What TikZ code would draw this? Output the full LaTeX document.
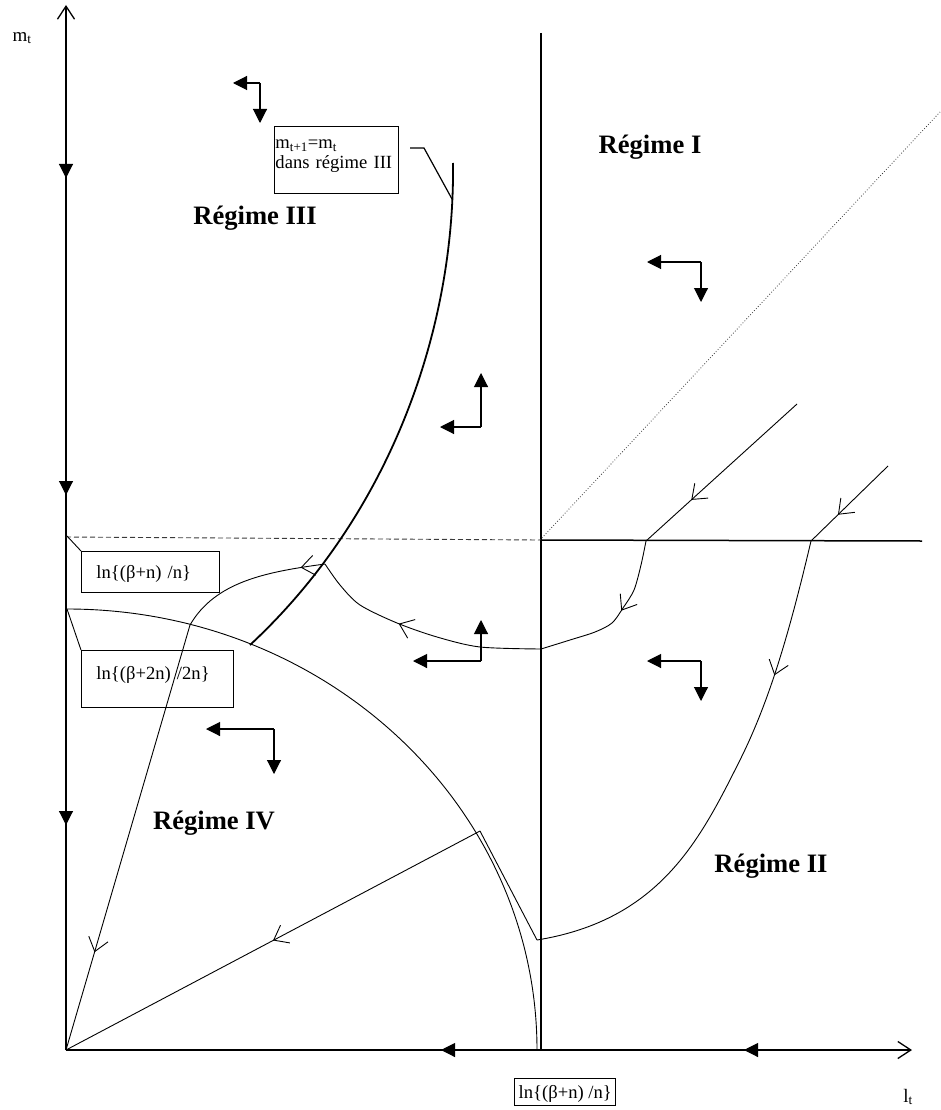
\documentclass[tikz,border=0pt]{standalone}
\usepackage{fontspec}
\setmainfont{Liberation Serif}
\usetikzlibrary{positioning,arrows.meta,decorations.markings}
\definecolor{guidegray}{HTML}{3A3A3A}

\begin{document}
\begin{tikzpicture}[x=1pt,y=-1pt,
  axis/.style={line width=1.3pt, -{Straight Barb[length=13pt,width=17pt]}},
  push/.style={line width=1.1pt, -{Triangle[length=14pt,width=14pt]}},
  flow/.style={line width=0.9pt},
  flowmid/.style={postaction={decorate}, decoration={markings,
      mark=at position #1 with {\arrow{Straight Barb[length=13pt,width=20pt]}}}},
  regimelbl/.style={font=\fontsize{26.6}{30}\selectfont\bfseries},
  axislbl/.style={font=\fontsize{19}{20}\selectfont},
  infobox/.style={draw, line width=0.9pt, inner ysep=0pt, align=left, font=\fontsize{18.6}{20}\selectfont}]
\useasboundingbox (0,0) rectangle (941,1110);

% axes
\coordinate (O) at (66,1050);
\draw[axis] (O) -- (66,5);
\draw[axis] (O) -- (912,1050);
\node[axislbl] (mlbl) at (22,38) {m\textsubscript{t}};
\node[axislbl] (llbl) at (908,1097) {l\textsubscript{t}};
\foreach \ya/\yb in {138/178, 455/495, 785/825}
  \draw[push] (66,\ya) -- (66,\yb);
\foreach \xa/\xb in {480/441, 812/744}
  \draw[push] (\xa,1050) -- (\xb,1050);

% regime borders
\coordinate (kink) at (540,540);
\draw[line width=1.8pt] (541,33) -- (541,1050);
\draw[line width=1.5pt] (kink) -- (922,541);
\draw[guidegray, line width=0.9pt, dash pattern=on 5pt off 3pt] (66,537) -- (kink);
\draw[guidegray, line width=0.8pt, dotted] (kink) -- (940,112);
\coordinate (arcTop) at (67,609);
\draw[flow] (arcTop) arc[start angle=90, end angle=0, x radius=470pt, y radius=441pt];
\draw[line width=1.8pt] (250,645) .. controls (390,515) and (455,330) .. (453,163);

% boxes
\node[infobox, anchor=north west, text width=122pt, inner xsep=1pt, text height=22pt, text depth=45pt] (eqbox) at (274,126) {m\textsubscript{t+1}=m\textsubscript{t}\\dans régime III};
\node[infobox, anchor=north west, text width=108pt, inner xsep=15pt, text height=27pt, text depth=14pt] (ratebox) at (81,551) {ln\{(β+n) /n\}};
\node[infobox, anchor=north west, text width=122pt, inner xsep=15pt, text height=29pt, text depth=28pt] (halfbox) at (81,650) {ln\{(β+2n) /2n\}};
\node[infobox, anchor=north west, line width=1.4pt, inner xsep=4pt, text height=20pt, text depth=7pt] (steadybox) at (514,1078) {ln\{(β+n) /n\}};
\coordinate (dashL) at (67,536);
\coordinate (eqlead) at (410,148);
\coordinate (bend) at (452,199);
\draw[flow] (dashL) -- (ratebox.north west);
\draw[flow] (arcTop) -- (halfbox.north west);
\draw[line width=1.2pt] (eqlead) -- ++(14,0) -- (bend);

% regime names
\node[regimelbl] (regI) at (650,147) {Régime I};
\node[regimelbl] (regIII) at (255,218) {Régime III};
\node[regimelbl] (regIV) at (214,823) {Régime IV};
\node[regimelbl] (regII) at (771,866) {Régime II};

% trajectories
\coordinate (hitA) at (646,541);
\coordinate (hitB) at (811,541);
\coordinate (midL) at (541,649);
\coordinate (onIII) at (325,564);
\coordinate (footL) at (190,625);
\coordinate (lowR) at (537,940);
\coordinate (onArc) at (480,831);
\draw[flow, flowmid=0.7] (797,404) -- (hitA);
\draw[flow, flowmid=0.45] plot[smooth] coordinates {(hitA) (641,565) (634,590) (623,608) (612,623) (595,632) (570,640) (midL)};
\draw[flow, flowmid=0.6] plot[smooth] coordinates {(midL) (480,647) (437,637) (397,623) (360,605) (340,585) (onIII)};
\draw[flow, flowmid=0.16] (onIII) .. controls (265,572) and (215,582) .. (footL);
\draw[flow, flowmid=0.77] (footL) -- (O);
\draw[flow, flowmid=0.65] (888,466) -- (hitB);
\draw[flow, flowmid=0.27] (hitB) .. controls (790,630) and (770,700) .. (740,760)
  .. controls (700,840) and (660,920) .. (lowR);
\draw[flow] (lowR) -- (onArc);
\draw[flow, flowmid=0.5] (onArc) -- (O);

% motion directions
\foreach \cx/\cy/\tx/\ty in {260/83/233/123, 701/262/647/302, 481/427/440/373,
    481/661/413/620, 701/661/647/701, 274/729/206/774}
{
  \draw[push] (\cx,\cy) -- (\tx,\cy);
  \draw[push] (\cx,\cy) -- (\cx,\ty);
}
\end{tikzpicture}
\end{document}
